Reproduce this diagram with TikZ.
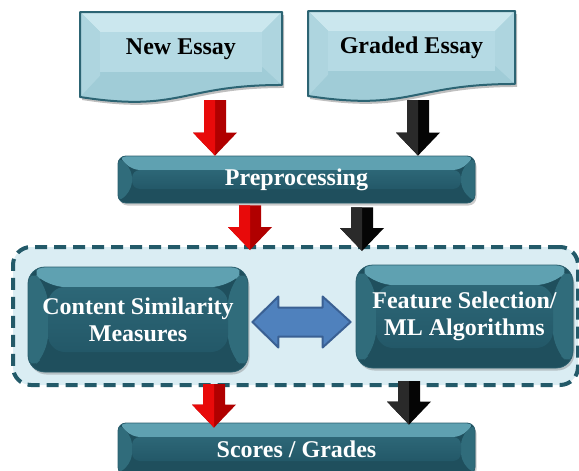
\documentclass[tikz,border=0pt]{standalone}
\usepackage{fontspec}
\setmainfont{Liberation Serif}
\usetikzlibrary{calc,shadows}
\definecolor{docfill}{HTML}{B5DAE4}
\definecolor{doctop}{HTML}{CBE7EE}
\definecolor{docside}{HTML}{AED5DF}
\definecolor{docbot}{HTML}{A0CCD7}
\definecolor{docedge}{HTML}{2C6473}
\definecolor{tealtop}{HTML}{5FA1B1}
\definecolor{tealside}{HTML}{306C7B}
\definecolor{tealfaceA}{HTML}{2D6777}
\definecolor{tealfaceB}{HTML}{235868}
\definecolor{tealbot}{HTML}{1F4F5D}
\definecolor{tealedge}{HTML}{2A5E6D}
\definecolor{groupfill}{HTML}{DAEDF3}
\definecolor{groupedge}{HTML}{235A69}
\definecolor{dblfill}{HTML}{4F81BD}
\definecolor{dbledge}{HTML}{3A6093}
\definecolor{redlight}{HTML}{E80A0A}
\definecolor{reddark}{HTML}{B00000}
\definecolor{blklight}{HTML}{2A2A2A}
\definecolor{blkdark}{HTML}{050505}

% essay sheet with wavy bottom: left, right, top, height
\newcommand{\essaypath}[4]{(#1,#3) -- (#2,#3) -- (#2,#3+0.802*#4)
  .. controls ({(#1+#2)/2},#3+0.802*#4) and ({(#1+#2)/2},#3+1.107*#4) .. (#1,#3+0.934*#4) -- cycle}
\newcommand{\essaydoc}[4]{%
  \fill[black,opacity=0.25] [xshift=2pt,yshift=-3pt] \essaypath{#1}{#2}{#3}{#4};
  \begin{scope}
    \clip \essaypath{#1}{#2}{#3}{#4};
    \fill[docbot] (#1,#3) rectangle (#2,#3+1.2*#4);
    \fill[doctop] (#1,#3) -- (#2,#3) -- (#2-20,#3+20) -- (#1+20,#3+20) -- cycle;
    \fill[docside] (#1,#3) -- (#1+20,#3+20) -- (#1+20,#3+0.7*#4) -- (#1,#3+0.934*#4) -- cycle;
    \fill[docside] (#2,#3) -- (#2-20,#3+20) -- (#2-20,#3+0.6*#4) -- (#2,#3+0.802*#4) -- cycle;
    \fill[docfill] (#1+20,#3+20) rectangle (#2-20,#3+0.66*#4);
  \end{scope}
  \draw[docedge,line width=2pt,line join=round] \essaypath{#1}{#2}{#3}{#4};}

% fat down arrow: light half, dark half, top, tip
\newcommand{\fatarrow}[4]{%
  \fill[#2] let \p1=#3, \p2=#4 in (\x1-11pt,\y1) -- (\x1+11pt,\y1) -- (\x1+11pt,\y2+23pt)
    -- (\x1+22pt,\y2+23pt) -- (\x1,\y2) -- (\x1-22pt,\y2+23pt) -- (\x1-11pt,\y2+23pt) -- cycle;
  \fill[#1] let \p1=#3, \p2=#4 in (\x1-11pt,\y1) -- (\x1,\y1) -- (\x1,\y2)
    -- (\x1-22pt,\y2+23pt) -- (\x1-11pt,\y2+23pt) -- cycle;}

\begin{document}
\begin{tikzpicture}[x=1pt,y=-1pt,line cap=round]
        % Styles
        \tikzstyle{tealbox}=[rectangle,rounded corners=8pt,draw=tealedge,line width=0.8pt,
            text=white,font=\bfseries\fontsize{24}{27}\selectfont,align=center,inner sep=0pt,
            drop shadow={opacity=0.4,shadow xshift=1.5pt,shadow yshift=-2.5pt}]
        \tikzstyle{essaytext}=[font=\bfseries\fontsize{24}{27}\selectfont,text=black]
        \tikzstyle{groupbox}=[rectangle,rounded corners=18pt,fill=groupfill,draw=groupedge,
            line width=4pt,dash pattern=on 12pt off 7pt,line cap=butt]
        \tikzstyle{dblarrow}=[fill=dblfill,draw=dbledge,line width=2pt,line join=round]
        \tikzset{bevel/.style={path picture={
            \coordinate (bbnw) at (path picture bounding box.north west);
            \coordinate (bbse) at (path picture bounding box.south east);
            \fill[tealbot] (bbnw) rectangle (bbse);
            \fill[tealtop] (bbnw) -- (bbnw -| bbse) -- ($(bbnw -| bbse)+(-#1,-#1)$) -- ($(bbnw)+(#1,-#1)$) -- cycle;
            \fill[tealside] (bbnw) -- ($(bbnw)+(#1,-#1)$) -- ($(bbnw |- bbse)+(#1,#1)$) -- (bbnw |- bbse) -- cycle;
            \fill[tealside] (bbnw -| bbse) -- ($(bbnw -| bbse)+(-#1,-#1)$) -- ($(bbse)+(-#1,#1)$) -- (bbse) -- cycle;
            \shade[top color=tealfaceA,bottom color=tealfaceB] ($(bbnw)+(#1,-#1)$) rectangle ($(bbse)+(-#1,#1)$);
            }},bevel/.default=14pt}
        \useasboundingbox (0,0) rectangle (579,471);
        %The graphic
        %input essays
        \essaydoc{80}{282}{12}{91}
        \essaydoc{308}{515}{11}{91}
        \node[essaytext] (newessay) at (181,49) {New Essay};
        \node[essaytext] (gradedessay) at (411.5,48) {Graded Essay};
        %stages
        \node[tealbox,bevel,minimum width=357pt,minimum height=47pt] (prep) at (296.5,179.5) {Preprocessing};
        \node[groupbox,minimum width=565pt,minimum height=138pt] (group) at (295.5,316) {};
        \node[tealbox,bevel=20pt,rounded corners=17pt,minimum width=220pt,minimum height=105pt] (csm) at (138,319.5) {Content Similarity\\Measures};
        \node[tealbox,bevel=20pt,rounded corners=17pt,minimum width=217pt,minimum height=103pt] (fs) at (464.5,316.5) {Feature Selection/\\ML Algorithms};
        \node[tealbox,bevel,minimum width=357pt,minimum height=52pt] (scores) at (296.5,449) {Scores / Grades};
        %arrows
        \fatarrow{redlight}{reddark}{(215,100)}{(215,0 |- prep.north)}
        \fatarrow{blklight}{blkdark}{(418,100)}{(418,0 |- prep.north)}
        \fatarrow{redlight}{reddark}{($(250,0 |- prep.south)+(0,2)$)}{($(250,0 |- group.north)+(0,5)$)}
        \fatarrow{blklight}{blkdark}{($(362,0 |- prep.south)+(0,4)$)}{($(362,0 |- group.north)+(0,6)$)}
        \fatarrow{redlight}{reddark}{($(214,0 |- group.south)+(0,-3)$)}{($(214,0 |- scores.north)+(0,5)$)}
        \fatarrow{blklight}{blkdark}{($(409,0 |- group.south)+(0,-6)$)}{($(409,0 |- scores.north)+(0,2)$)}
        \draw[dblarrow] let \p1=($(csm.east)+(4,0)$), \p2=($(fs.west)+(-5,0)$), \p3=(0,322) in
            (\x1,\y3) -- (\x1+26pt,\y3+25.5pt) -- (\x1+26pt,\y3+14.5pt) -- (\x2-28pt,\y3+14.5pt)
            -- (\x2-28pt,\y3+25.5pt) -- (\x2,\y3) -- (\x2-28pt,\y3-25.5pt) -- (\x2-28pt,\y3-14.5pt)
            -- (\x1+26pt,\y3-14.5pt) -- (\x1+26pt,\y3-25.5pt) -- cycle;
\end{tikzpicture}
\end{document}
